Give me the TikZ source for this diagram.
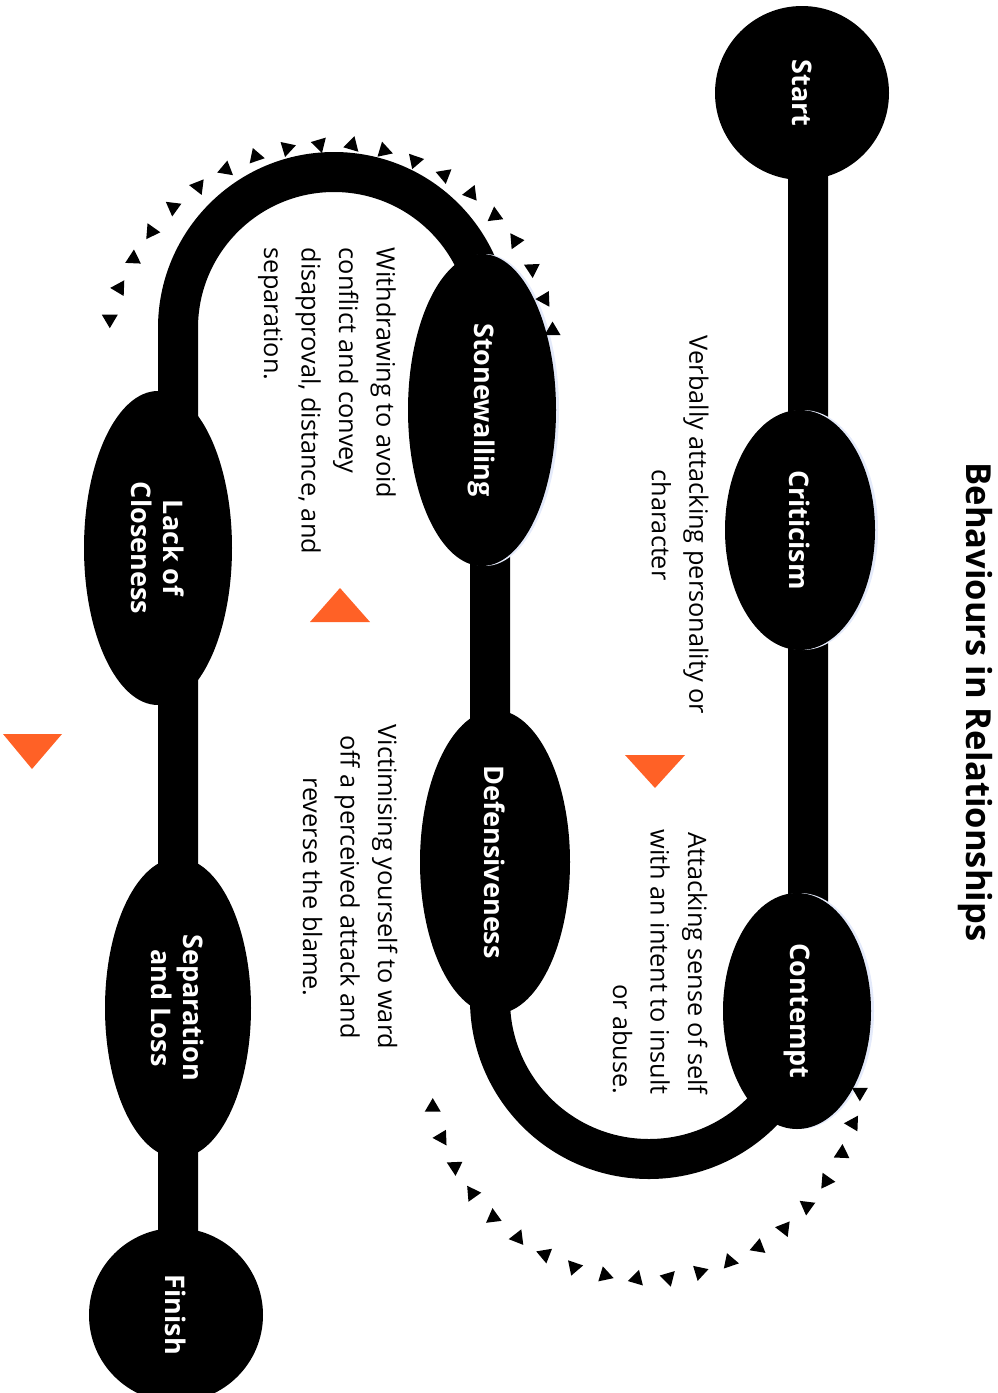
\documentclass[tikz,border=0pt]{standalone}
\usepackage{fontspec}
\setmainfont{Open Sans}
\usetikzlibrary{shapes.geometric}
\definecolor{accent}{RGB}{255,97,38}
\definecolor{glow}{RGB}{228,234,250}
\begin{document}
\begin{tikzpicture}[x=1pt,y=-1pt,
  track/.style={line width=40pt, line cap=butt},
  blob/.style={ellipse, fill=black, inner sep=0pt, rotate=-90, text=white, align=center,
    font=\fontsize{27}{32}\selectfont\bfseries},
  disc/.style={circle, fill=black, inner sep=0pt, minimum size=174pt, rotate=-90, text=white,
    font=\fontsize{27}{32}\selectfont\bfseries},
  desc/.style={rotate=-90, inner sep=0pt, font=\fontsize{25.3}{37.5}\selectfont},
  titletext/.style={rotate=-90, inner sep=0pt, font=\fontsize{34.5}{40}\selectfont\bfseries},
  arrowtick/.style={fill=black},
  flag/.style={fill=accent}
]
\useasboundingbox (0,0) rectangle (998,1393);

% track junctions
\coordinate (j1) at (808,95);
\coordinate (j2) at (808,1000);
\coordinate (j3) at (490,1000);
\coordinate (j4) at (490,328);
\coordinate (j5) at (178,328);
\coordinate (j6) at (178,1312);

\draw[track] (j1) -- (j2) arc[start angle=0, end angle=-180, radius=159pt]
  -- (j4) arc[start angle=0, end angle=180, radius=156pt] -- (j6);

% faint halos
\fill[glow] (803,530) ellipse[x radius=75pt, y radius=120pt];
\fill[glow] (800,1011) ellipse[x radius=74pt, y radius=118pt];
\fill[glow] (485,410) ellipse[x radius=74pt, y radius=156pt];

% stations
\node[disc] (start) at (802,93) {Start};
\node[blob, minimum width=240pt, minimum height=150pt] (crit) at (800,530) {Criticism};
\node[blob, minimum width=236pt, minimum height=148pt] (cont) at (797,1011) {Contempt};
\node[blob, minimum width=312pt, minimum height=148pt] (stone) at (482,410) {Stonewalling};
\node[blob, minimum width=304pt, minimum height=150pt] (def) at (495,862) {Defensiveness};
\node[blob, minimum width=314pt, minimum height=148pt] (lack) at (158,548) {Lack of\\Closeness};
\node[blob, minimum width=300pt, minimum height=146pt] (sep) at (178,1008) {Separation\\and Loss};
\node[disc] (finish) at (176,1315) {Finish};

% title
\node[titletext] (title) at (975,702) {Behaviours in Relationships};

% descriptions
\node[desc, align=center] (dcrit) at (680,525) {Verbally attacking personality or\\character};
\node[desc, align=right] (dcont) at (660,962) {Attacking sense of self\\with an intent to insult\\or abuse.};
\node[desc, align=left] (dstone) at (327,401) {Withdrawing to avoid\\conflict and convey\\disapproval, distance, and\\separation.};
\node[desc, align=center] (ddef) at (350,887) {Victimising yourself to ward\\off a perceived attack and\\reverse the blame.};

% orange markers
\fill[flag] (625,755) -- (685,755) -- (655,788) -- cycle;
\fill[flag] (310,622) -- (370,622) -- (340,588) -- cycle;
\fill[flag] (3,734) -- (62,734) -- (32,769) -- cycle;

% small rotating triangles, upper arc
\foreach \i in {0,...,19}{
  \pgfmathsetmacro\ang{-167+8.26*\i}
  \pgfmathsetmacro\rot{-180+28.42*\i}
  \fill[arrowtick, shift={({330+226*cos(\ang)},{370+226*sin(\ang)})}, rotate=\rot]
    (0pt,9pt) -- (-8pt,-4.5pt) -- (8pt,-4.5pt) -- cycle;
}
% small rotating triangles, lower arc
\foreach \i in {0,...,19}{
  \pgfmathsetmacro\ang{168-8.42*\i}
  \pgfmathsetmacro\rot{-28.42*\i}
  \fill[arrowtick, shift={({645+217*cos(\ang)},{1062+217*sin(\ang)})}, rotate=\rot]
    (0pt,9pt) -- (-8pt,-4.5pt) -- (8pt,-4.5pt) -- cycle;
}
\end{tikzpicture}
\end{document}
